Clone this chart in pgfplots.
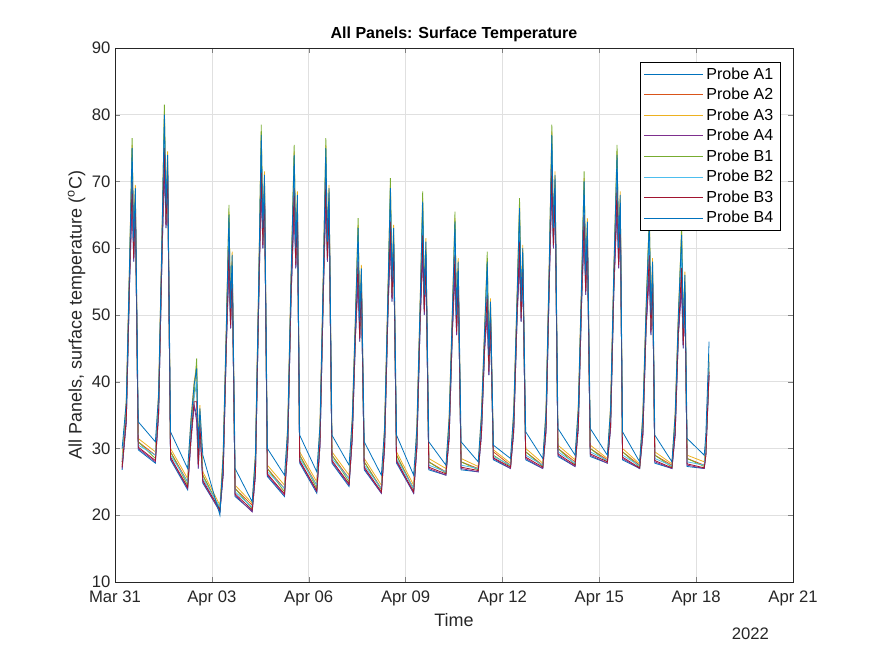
\documentclass[border=0pt]{standalone}
\usepackage{pgfplots}
\pgfplotsset{compat=1.18}
\usepackage{pgfplotstable}
\usepackage{fontspec}
\setmainfont{Liberation Sans}
\definecolor{c1}{rgb}{0,0.447,0.741}
\definecolor{c2}{rgb}{0.85,0.325,0.098}
\definecolor{c3}{rgb}{0.929,0.694,0.125}
\definecolor{c4}{rgb}{0.494,0.184,0.556}
\definecolor{c5}{rgb}{0.466,0.674,0.188}
\definecolor{c6}{rgb}{0.301,0.745,0.933}
\definecolor{c7}{rgb}{0.635,0.078,0.184}
\pgfplotstableread{
t B4 A2 A3 A4 B1 B2 B3 A1
0.22 30 28 28.5 27 27.5 28 27.2 26.8
0.35 37 36 37.5 34 35.5 35 34.5 34
0.45 57.5 56.5 58 54.5 56 55.5 55 54.5
0.53 75 72 75.5 67 76.5 73 70 68
0.58 61 60 61.5 58 59.5 59 58.5 58
0.63 69 68 69.5 66 67.5 67 66.5 66
0.72 34 31 31.5 30 31 30.5 30.2 29.8
1.25 31 29 29.5 28 28.5 29 28.2 27.8
1.35 38 37 38.5 35 36.5 36 35.5 35
1.45 60.5 59.5 61 57.5 59 58.5 58 57.5
1.53 80 77 80.5 72 81.5 78 75 73
1.58 66 65 66.5 63 64.5 64 63.5 63
1.63 74 73 74.5 71 72.5 72 71.5 71
1.72 32.5 29.5 30 28.5 29.5 29 28.7 28.3
2.25 27 25 25.5 24 24.5 25 24.2 23.8
2.35 34 33 34.5 31 32.5 32 31.5 31
2.45 39.5 38.5 40 36.5 38 37.5 37 36.5
2.53 42 39 42.5 34 43.5 40 37 35
2.58 30 29 30.5 27 28.5 28 27.5 27
2.63 36 35 36.5 33 34.5 34 33.5 33
2.72 29 26 26.5 25 26 25.5 25.2 24.8
3.25 20 21 21.5 20.5 21 21.2 20.8 20.6
3.35 29 28 29.5 26 27.5 27 26.5 26
3.45 48.5 47.5 49 45.5 47 46.5 46 45.5
3.53 65 62 65.5 57 66.5 63 60 58
3.58 51 50 51.5 48 49.5 49 48.5 48
3.63 59 58 59.5 56 57.5 57 56.5 56
3.72 27 24 24.5 23 24 23.5 23.2 22.8
4.25 22 21.5 21.8 20.5 21 21.2 20.8 20.6
4.35 29 28 29.5 26 27.5 27 26.5 26
4.45 54.5 53.5 55 51.5 53 52.5 52 51.5
4.53 77 74 77.5 69 78.5 75 72 70
4.58 63 62 63.5 60 61.5 61 60.5 60
4.63 71 70 71.5 68 69.5 69 68.5 68
4.72 30 27 27.5 26 27 26.5 26.2 25.8
5.25 26 24 24.5 23 23.5 24 23.2 22.8
5.35 33 32 33.5 30 31.5 31 30.5 30
5.45 55 54 55.5 52 53.5 53 52.5 52
5.55 74 71 74.5 66 75.5 72 69 67
5.60 60 59 60.5 57 58.5 58 57.5 57
5.65 68 67 68.5 65 66.5 66 65.5 65
5.72 32 29 29.5 28 29 28.5 28.2 27.8
6.25 26.5 24.5 25 23.5 24 24.5 23.7 23.3
6.35 33.5 32.5 34 30.5 32 31.5 31 30.5
6.45 55.5 54.5 56 52.5 54 53.5 53 52.5
6.53 75 72 75.5 67 76.5 73 70 68
6.58 61 60 61.5 58 59.5 59 58.5 58
6.63 69 68 69.5 66 67.5 67 66.5 66
6.72 32 29 29.5 28 29 28.5 28.2 27.8
7.25 27.5 25.5 26 24.5 25 25.5 24.7 24.3
7.35 34.5 33.5 35 31.5 33 32.5 32 31.5
7.45 50 49 50.5 47 48.5 48 47.5 47
7.53 63 60 63.5 55 64.5 61 58 56
7.58 49 48 49.5 46 47.5 47 46.5 46
7.63 57 56 57.5 54 55.5 55 54.5 54
7.72 31 28 28.5 27 28 27.5 27.2 26.8
8.25 26 24 24.5 23.3 23.8 24 23.5 23.3
8.35 33 32 33.5 30 31.5 31 30.5 30
8.45 52.5 51.5 53 49.5 51 50.5 50 49.5
8.53 69 66 69.5 61 70.5 67 64 62
8.58 55 54 55.5 52 53.5 53 52.5 52
8.63 63 62 63.5 60 61.5 61 60.5 60
8.72 32 29 29.5 28 29 28.5 28.2 27.8
9.25 26 24 24.5 23.3 23.8 24 23.5 23.3
9.35 33 32 33.5 30 31.5 31 30.5 30
9.45 51.5 50.5 52 48.5 50 49.5 49 48.5
9.53 67 64 67.5 59 68.5 65 62 60
9.58 53 52 53.5 50 51.5 51 50.5 50
9.63 61 60 61.5 58 59.5 59 58.5 58
9.72 31 28 28.5 27 28 27.5 27.2 26.8
10.25 27.5 26.5 27 26 26.3 26.5 26.2 26
10.35 34.5 33.5 35 31.5 33 32.5 32 31.5
10.45 50.5 49.5 51 47.5 49 48.5 48 47.5
10.53 64 61 64.5 56 65.5 62 59 57
10.58 50 49 50.5 47 48.5 48 47.5 47
10.63 58 57 58.5 55 56.5 56 55.5 55
10.72 31 28 28.5 27 28 27.5 27.2 26.8
11.25 28 27 27.3 26.5 26.8 27 26.7 26.5
11.35 35 34 35.5 32 33.5 33 32.5 32
11.45 48 47 48.5 45 46.5 46 45.5 45
11.53 58 55 58.5 50 59.5 56 53 51
11.58 44 43 44.5 41 42.5 42 41.5 41
11.63 52 51 52.5 49 50.5 50 49.5 49
11.72 30.5 29.5 29.8 28.5 29 28.8 28.6 28.3
12.25 28.5 27.5 27.8 27 27.3 27.5 27.2 27
12.35 35.5 34.5 36 32.5 34 33.5 33 32.5
12.45 52 51 52.5 49 50.5 50 49.5 49
12.53 66 63 66.5 58 67.5 64 61 59
12.58 52 51 52.5 49 50.5 50 49.5 49
12.63 60 59 60.5 57 58.5 58 57.5 57
12.72 32.5 29.5 30 28.5 29.5 29 28.7 28.3
13.25 28.5 27.5 27.8 27 27.3 27.5 27.2 27
13.35 35.5 34.5 36 32.5 34 33.5 33 32.5
13.45 57.5 56.5 58 54.5 56 55.5 55 54.5
13.53 77 74 77.5 69 78.5 75 72 70
13.58 63 62 63.5 60 61.5 61 60.5 60
13.63 71 70 71.5 68 69.5 69 68.5 68
13.72 33 30 30.5 29 30 29.5 29.2 28.8
14.25 29 28 28.3 27.3 27.6 27.8 27.5 27.3
14.35 36 35 36.5 33 34.5 34 33.5 33
14.45 54.5 53.5 55 51.5 53 52.5 52 51.5
14.53 70 67 70.5 62 71.5 68 65 63
14.58 56 55 56.5 53 54.5 54 53.5 53
14.63 64 63 64.5 61 62.5 62 61.5 61
14.72 33 30 30.5 29 30 29.5 29.2 28.8
15.25 29 28.3 28.5 27.8 28 28.2 28 27.8
15.35 36 35 36.5 33 34.5 34 33.5 33
15.45 56.5 55.5 57 53.5 55 54.5 54 53.5
15.55 74 71 74.5 66 75.5 72 69 67
15.60 60 59 60.5 57 58.5 58 57.5 57
15.65 68 67 68.5 65 66.5 66 65.5 65
15.72 32.5 29.5 30 28.5 29.5 29 28.7 28.3
16.25 28 27.5 27.7 27 27.2 27.4 27.1 27
16.35 35 34 35.5 32 33.5 33 32.5 32
16.45 51 50 51.5 48 49.5 49 48.5 48
16.55 64 61 64.5 56 65.5 62 59 57
16.60 50 49 50.5 47 48.5 48 47.5 47
16.65 58 57 58.5 55 56.5 56 55.5 55
16.72 32 29 29.5 28 29 28.5 28.2 27.8
17.25 28 27.5 27.7 27 27.2 27.4 27.1 27
17.35 35 34 35.5 32 33.5 33 32.5 32
17.45 50 49 50.5 47 48.5 48 47.5 47
17.55 62 59 62.5 54 63.5 60 57 55
17.60 48 47 48.5 45 46.5 46 45.5 45
17.65 56 55 56.5 53 54.5 54 53.5 53
17.72 31.5 28.5 29 27.5 28.5 28 27.7 27.3
18.25 29 27.5 28 27 27.3 27.5 27.1 27
18.30 32 30 31 29 29.5 30 29 29
18.40 46 43 44 41 42 43 41.5 41
}\data
\begin{document}
\begin{tikzpicture}
\begin{axis}[
  scale only axis, width=508.5pt, height=400.5pt,
  xmin=0, xmax=21, ymin=10, ymax=90,
  xtick={0,3,...,21},
  xticklabels={Mar 31,Apr 03,Apr 06,Apr 09,Apr 12,Apr 15,Apr 18,Apr 21},
  ytick={10,20,...,90},
  /pgf/number format/assume math mode=true,
  tick label style={font=\fontsize{12.5}{14}\selectfont, text=black!85},
  xticklabel style={yshift=-3pt},
  tick align=inside, tick pos=both,
  major tick length=4pt,
  grid=major, grid style={black!12},
  axis line style={black!85},
  title={\bfseries All Panels: Surface Temperature},
  title style={font=\fontsize{12}{14}\selectfont, yshift=-5pt},
  xlabel={Time}, ylabel={All Panels, surface temperature ($^{\mathrm{o}}$C)},
  label style={font=\fontsize{13.5}{15}\selectfont, text=black!85},
  xlabel style={yshift=1pt}, ylabel style={yshift=-2pt},
  legend style={at={(0.981,0.974)}, anchor=north east, font=\fontsize{12}{14}\selectfont,
    draw=black, cells={anchor=west}, row sep=1.2pt},
  legend cell align=left,
  legend image post style={xscale=2.6},
  every axis plot/.append style={line width=0.6pt},
]
\addplot[c1] table[x=t,y=A1]{\data};
\addlegendentry{Probe A1}
\addplot[c2] table[x=t,y=A2]{\data};
\addlegendentry{Probe A2}
\addplot[c3] table[x=t,y=A3]{\data};
\addlegendentry{Probe A3}
\addplot[c4] table[x=t,y=A4]{\data};
\addlegendentry{Probe A4}
\addplot[c5] table[x=t,y=B1]{\data};
\addlegendentry{Probe B1}
\addplot[c6] table[x=t,y=B2]{\data};
\addlegendentry{Probe B2}
\addplot[c7] table[x=t,y=B3]{\data};
\addlegendentry{Probe B3}
\addplot[c1] table[x=t,y=B4]{\data};
\addlegendentry{Probe B4}
\end{axis}
\node[font=\fontsize{12.5}{14}\selectfont, text=black!85, anchor=base] at ([xshift=-32pt,yshift=-43pt]current axis.south east) {2022};
\pgfresetboundingbox
\path ([xshift=-86.25pt,yshift=-55.5pt]current axis.south west) rectangle ([xshift=61.5pt,yshift=36pt]current axis.north east);
\end{tikzpicture}
\end{document}
